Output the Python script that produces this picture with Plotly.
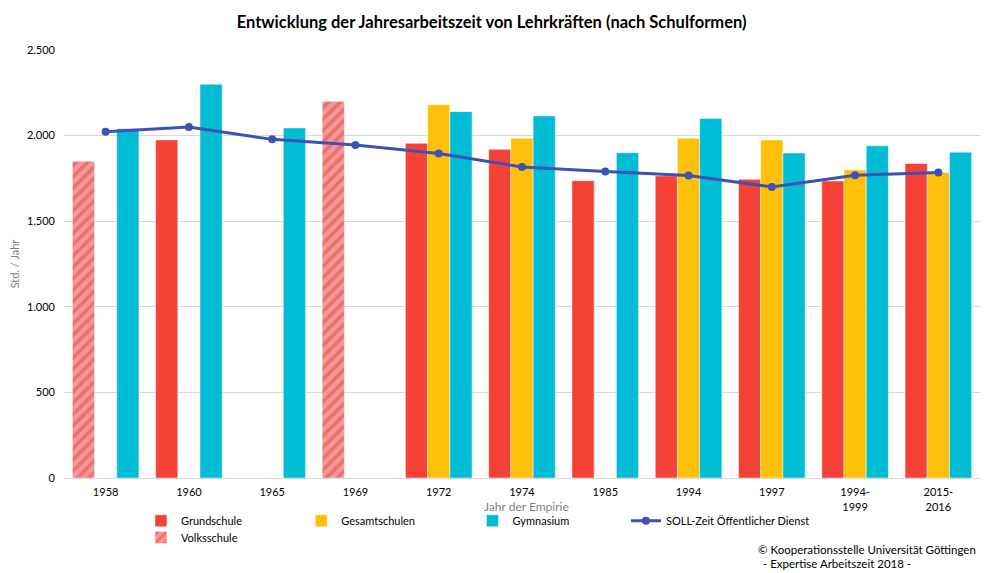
import plotly.graph_objects as go

RED = "#F44336"
YELLOW = "#FFC107"
CYAN = "#00BCD4"
BLUE = "#3F51B5"
PINK = "#EF9A9A"
GRID = "#D9D9D9"
MUTE = "#7F7F7F"

years = ["1958", "1960", "1965", "1969", "1972", "1974", "1985", "1994", "1997",
         "1994-<br>1999", "2015-<br>2016"]
grundschule = [None, 1975, None, None, 1955, 1920, 1737, 1765, 1745, 1735, 1837]
volksschule = [1850, None, None, 2200, None, None, None, None, None, None, None]
gesamtschulen = [None, None, None, None, 2180, 1985, None, 1985, 1975, 1800, 1785]
gymnasium = [2040, 2300, 2045, None, 2140, 2115, 1900, 2100, 1898, 1940, 1903]
soll_zeit = [2022, 2050, 1978, 1945, 1895, 1817, 1790, 1767, 1700, 1768, 1785]

FONT = "Lato, Open Sans, sans-serif"
edge = dict(width=0.8, color="rgba(255,255,255,0.6)")

fig = go.Figure()
fig.add_trace(go.Bar(x=years, y=grundschule, name="Grundschule", offsetgroup="g",
                     legend="legend", showlegend=True, marker=dict(color=RED, line=edge)))
fig.add_trace(go.Bar(x=years, y=gesamtschulen, name="Gesamtschulen", offsetgroup="ge",
                     legend="legend2", marker=dict(color=YELLOW, line=edge)))
fig.add_trace(go.Bar(x=years, y=gymnasium, name="Gymnasium", offsetgroup="gy",
                     legend="legend3", marker=dict(color=CYAN, line=edge)))
fig.add_trace(go.Scatter(x=years, y=soll_zeit, name="SOLL-Zeit Öffentlicher Dienst",
                         mode="lines+markers", line=dict(color=BLUE, width=3),
                         legend="legend4", marker=dict(size=8, color=BLUE)))
fig.add_trace(go.Bar(x=years, y=volksschule, name="Volksschule", offsetgroup="g",
                     legend="legend5",
                     marker=dict(color=PINK, line=edge,
                                 pattern=dict(shape="/", fgcolor=RED, bgcolor=PINK,
                                              size=8, solidity=0.45))))

leg = dict(orientation="h", xanchor="left", yanchor="top", font=dict(size=11),
           bgcolor="rgba(0,0,0,0)")
note_font = dict(family=FONT, size=11.5, color="#000000")

# page body adds an 8px margin, so the figure is 8px smaller than the window
fig.update_layout(
    width=987, height=565,
    showlegend=True,
    paper_bgcolor="white", plot_bgcolor="white",
    font=dict(family=FONT, size=11, color="#000000"),
    separators=",.",
    barmode="group", bargap=0.2, bargroupgap=0,
    margin=dict(l=56, r=15, t=42, b=95, autoexpand=False),
    title=dict(text="<b>Entwicklung der Jahresarbeitszeit von Lehrkräften (nach Schulformen)</b>",
               x=0.49, xanchor="center", y=0.975, yanchor="middle",
               font=dict(family=FONT, size=16.5, color="#000000")),
    xaxis=dict(showline=True, linecolor=GRID, linewidth=1, ticks="",
               range=[-0.5, len(years) - 0.5],
               tickfont=dict(size=11), ticklabelstandoff=4, automargin=False),
    yaxis=dict(title=dict(text="Std. / Jahr", font=dict(color=MUTE, size=11), standoff=12),
               range=[0, 2500], dtick=500, tickformat=",d", gridcolor=GRID,
               zeroline=False, showline=False, tickfont=dict(size=11),
               ticklabelstandoff=8, automargin=False),
    legend=dict(leg, x=0.084, y=-0.066),
    legend2=dict(leg, x=0.259, y=-0.066),
    legend3=dict(leg, x=0.446, y=-0.066),
    legend4=dict(leg, x=0.6135, y=-0.066),
    legend5=dict(leg, x=0.084, y=-0.105),
    annotations=[
        dict(text="Jahr der Empirie", xref="paper", yref="paper", x=0.505, y=-0.067,
             xanchor="center", yanchor="middle", showarrow=False,
             font=dict(family=FONT, size=12, color=MUTE)),
        dict(text="© Kooperationsstelle Universität Göttingen", xref="paper", yref="paper",
             x=0.7566, y=-0.166, xanchor="left", yanchor="middle", showarrow=False,
             borderpad=0, font=note_font),
        dict(text=" - Expertise Arbeitszeit 2018 -", xref="paper", yref="paper",
             x=0.759, y=-0.2009, xanchor="left", yanchor="middle", showarrow=False,
             borderpad=0, font=note_font),
    ],
)

fig.write_html("out.html")
